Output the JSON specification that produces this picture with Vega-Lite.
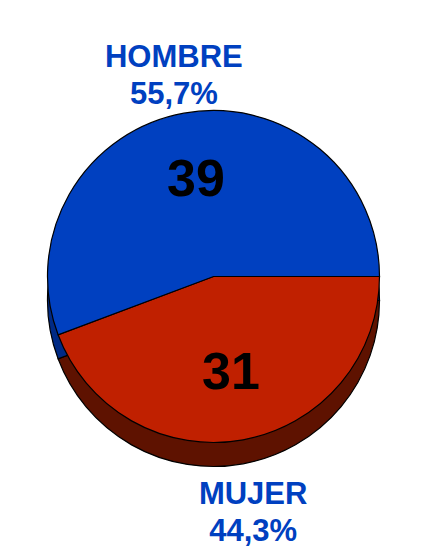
{
  "$schema": "https://vega.github.io/schema/vega-lite/v6.json",
  "width": 427,
  "height": 553,
  "autosize": {"type": "fit", "contains": "padding"},
  "background": "white",
  "view": {"stroke": null},
  "config": {"font": "Liberation Sans"},
  "data": {
    "values": [
      {"sexo": "MUJER", "n": 31, "orden": 1, "label": "MUJER\n44,3%"},
      {"sexo": "HOMBRE", "n": 39, "orden": 2, "label": "HOMBRE\n55,7%"}
    ]
  },
  "encoding": {
    "theta": {"field": "n", "type": "quantitative", "stack": true, "scale": {"range": [1.5708, 7.854]}},
    "order": {"field": "orden", "type": "quantitative", "sort": "ascending"}
  },
  "layer": [
    {
      "mark": {"type": "arc", "outerRadius": 166, "yOffset": 24, "stroke": "black", "strokeWidth": 1.2},
      "encoding": {
        "color": {"field": "sexo", "type": "nominal", "legend": null,
          "scale": {"domain": ["HOMBRE", "MUJER"], "range": ["#002A85", "#5E1200"]}}
      }
    },
    {
      "mark": {"type": "arc", "outerRadius": 166, "stroke": "black", "strokeWidth": 1.2},
      "encoding": {
        "color": {"field": "sexo", "type": "nominal", "legend": null,
          "scale": {"domain": ["HOMBRE", "MUJER"], "range": ["#0040C0", "#C02000"]}}
      }
    },
    {
      "mark": {"type": "text", "radius": 98, "fontSize": 52, "fontWeight": "bold", "fill": "black"},
      "encoding": {"text": {"field": "n", "type": "quantitative"}}
    },
    {
      "mark": {"type": "text", "radius": 222, "fontSize": 31, "fontWeight": "bold", "fill": "#0040C0", "lineBreak": "\n", "lineHeight": 37, "baseline": "middle"},
      "encoding": {"text": {"field": "label", "type": "nominal"}}
    }
  ],
  "resolve": {"scale": {"color": "independent"}}
}
